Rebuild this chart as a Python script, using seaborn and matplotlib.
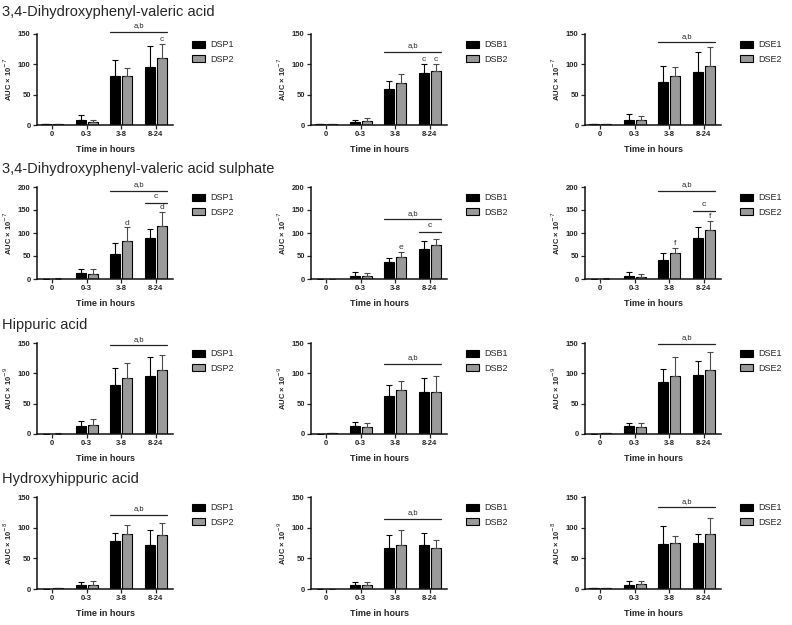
import pandas as pd
import matplotlib
matplotlib.use("Agg")
import matplotlib.pyplot as plt
from matplotlib.patches import Patch
import seaborn as sns

# time windows on the x axis
times = ["0", "0-3", "3-8", "8-24"]

# one row per compound
titles = ["3,4-Dihydroxyphenyl-valeric acid",
          "3,4-Dihydroxyphenyl-valeric acid sulphate",
          "Hippuric acid",
          "Hydroxyhippuric acid"]

# exponent of the AUC scale, per panel (row x column)
exponents = [[-7, -7, -7],
             [-7, -7, -7],
             [-9, -9, -9],
             [-8, -9, -8]]

ymax = [150, 200, 150, 150]

# groups shown in each column
groups = [["DSP1", "DSP2"], ["DSB1", "DSB2"], ["DSE1", "DSE2"]]

# mean AUC, order: DSP1, DSP2, DSB1, DSB2, DSE1, DSE2
dhpva_mean = [[1, 8.4, 80, 96], [1, 4.5, 80.5, 111],
              [1, 4.3, 60, 85], [1, 6, 70, 89],
              [1, 9, 71, 87], [1.5, 9, 80, 98]]
dhpva_sd = [[0.5, 7.3, 27, 34], [0.5, 4.5, 13.5, 23],
            [0.5, 3.7, 13, 15], [0.5, 6, 14, 12],
            [0.5, 9, 27, 33], [0.5, 6.5, 16, 30]]

dhpvas_mean = [[0.5, 13.7, 55, 89], [1, 11.5, 83.5, 116],
               [0.5, 7, 36, 65], [0.5, 6, 47, 73],
               [0.5, 7, 42, 88.5], [1, 5, 57.5, 107]]
dhpvas_sd = [[0, 8, 23, 19], [0.5, 10, 28.5, 29],
             [0, 8, 10, 18], [0, 6, 11, 14],
             [0, 9, 15.5, 24.5], [0.5, 6, 9.5, 20]]

hipp_mean = [[0.5, 13, 81, 95], [0.5, 15, 93, 106],
             [0.5, 13, 62, 68.5], [1, 11, 73, 70],
             [0.5, 12.6, 86, 97], [1, 11, 96, 105.5]]
hipp_sd = [[0, 9, 28, 32], [0.5, 10, 24, 25],
           [0, 6.4, 19, 24.5], [0.5, 7, 14, 25],
           [0, 5.4, 21, 24], [0.5, 6.6, 31, 29]]

ohhipp_mean = [[0.5, 6, 78, 71], [1, 7, 89, 87.5],
               [0.5, 6.4, 67.5, 72], [0.5, 6.4, 72, 67],
               [1, 6.5, 74, 75.5], [1, 8, 75, 89]]
ohhipp_sd = [[0, 5, 14, 24.5], [0.5, 6.5, 16, 19.5],
             [0, 5.6, 20.5, 19.6], [0, 4.6, 24, 13],
             [0.5, 6, 29, 14.5], [0.5, 5.5, 12, 26.5]]

means = [dhpva_mean, dhpvas_mean, hipp_mean, ohhipp_mean]
sds = [dhpva_sd, dhpvas_sd, hipp_sd, ohhipp_sd]

# significance bars: height of the "a,b" bar and the "c" bar (None = absent)
ab_line = [[154, 121, 136], [191, 129.5, 191], [146, 116, 149], [121, 114, 133]]
c_line = [[None, None, None], [165, 102, 147.5], [None, None, None], [None, None, None]]

# letters over single bars: (row, col, series, time index, letter)
letters = [(0, 0, 1, 3, "c"), (0, 1, 0, 3, "c"), (0, 1, 1, 3, "c"),
           (1, 0, 1, 2, "d"), (1, 0, 1, 3, "d"), (1, 1, 1, 2, "e"),
           (1, 2, 1, 2, "f"), (1, 2, 1, 3, "f")]

colors = ["#000000", "#9a9a9a"]
err_colors = ["#000000", "#4a4a4a"]

sns.set_theme(style="ticks")
plt.rcParams["font.family"] = ["Liberation Sans", "DejaVu Sans"]

W, H = 792, 625
fig = plt.figure(figsize=(W / 100, H / 100), dpi=100)

col_left = [37, 311, 585]
ax_w = 136
row_box = [(34, 125), (187, 279), (343, 434), (497, 589)]
title_y = [12, 169, 325, 479]

for r in range(4):
    fig.text(2 / W, 1 - title_y[r] / H, titles[r], fontsize=10.5, va="center", ha="left")
    top, bot = row_box[r]
    for c in range(3):
        ax = fig.add_axes([col_left[c] / W, 1 - bot / H, ax_w / W, (bot - top) / H])
        g1, g2 = groups[c]
        m1, m2 = means[r][2 * c], means[r][2 * c + 1]
        s1, s2 = sds[r][2 * c], sds[r][2 * c + 1]
        df = pd.DataFrame({
            "time": times + times,
            "group": [g1] * 4 + [g2] * 4,
            "auc": m1 + m2,
        })
        sns.barplot(data=df, x="time", y="auc", hue="group", order=times,
                    hue_order=[g1, g2], palette=dict(zip([g1, g2], colors)),
                    width=0.7, gap=0.15, edgecolor="black", linewidth=0.8,
                    errorbar=None, legend=False, ax=ax)

        # bar centres per series, by face colour
        bars = sorted(ax.patches, key=lambda p: p.get_x())
        xs = [[], []]
        for p in bars:
            k = 0 if p.get_facecolor()[0] < 0.3 else 1
            xs[k].append(p.get_x() + p.get_width() / 2)
        for k, (m, s) in enumerate([(m1, s1), (m2, s2)]):
            ax.errorbar(xs[k], m, yerr=[[0] * 4, s], fmt="none",
                        ecolor=err_colors[k], elinewidth=0.8, capsize=2.2,
                        capthick=0.8, zorder=1)

        bw = bars[0].get_width()
        # a,b bar over the 3-8 and 8-24 windows
        x0 = xs[0][2] - bw / 2
        x1 = xs[1][3] + bw / 2
        y = ab_line[r][c]
        ax.plot([x0, x1], [y, y], color="#222222", lw=0.9, clip_on=False)
        ax.text((x0 + x1) / 2, y + ymax[r] * 0.03, "a,b", ha="center", va="bottom",
                fontsize=5.5, clip_on=False)
        if c_line[r][c] is not None:
            y = c_line[r][c]
            x0 = xs[0][3] - bw / 2
            ax.plot([x0, x1], [y, y], color="#222222", lw=0.9, clip_on=False)
            ax.text((x0 + x1) / 2, y + ymax[r] * 0.03, "c", ha="center", va="bottom",
                    fontsize=6, clip_on=False)

        for (lr, lc, k, t, lab) in letters:
            if lr == r and lc == c:
                ytop = means[r][2 * c + k][t] + sds[r][2 * c + k][t]
                ax.text(xs[k][t], ytop + ymax[r] * 0.01, lab, ha="center",
                        va="bottom", fontsize=6, color="#333333", clip_on=False)

        ax.set_ylim(0, ymax[r])
        ax.set_yticks(range(0, ymax[r] + 1, 50))
        ax.set_xlim(-0.44, 3.5)
        sns.despine(ax=ax)
        for sp in ["left", "bottom"]:
            ax.spines[sp].set_linewidth(1.1)
            ax.spines[sp].set_color("#111111")
        ax.tick_params(axis="both", labelsize=5.5, width=0.9, length=3, pad=1.5)
        for lab in ax.get_xticklabels() + ax.get_yticklabels():
            lab.set_fontweight("bold")
        ax.set_xlabel("Time in hours", fontsize=6.5, fontweight="bold", labelpad=5)
        ax.set_ylabel("AUC × 10$^{%d}$" % exponents[r][c], fontsize=5.5,
                      fontweight="bold", labelpad=3)
        ax.grid(False)

        handles = [Patch(facecolor=colors[0], edgecolor="black", linewidth=0.8),
                   Patch(facecolor=colors[1], edgecolor="black", linewidth=0.8)]
        ax.legend(handles, [g1, g2], loc="upper left", bbox_to_anchor=(1.08, 1.02),
                  frameon=False, fontsize=6.5, handlelength=1.4, handleheight=0.8,
                  labelspacing=0.6, handletextpad=0.6)

fig.savefig("out.png", dpi=100, facecolor="white")
